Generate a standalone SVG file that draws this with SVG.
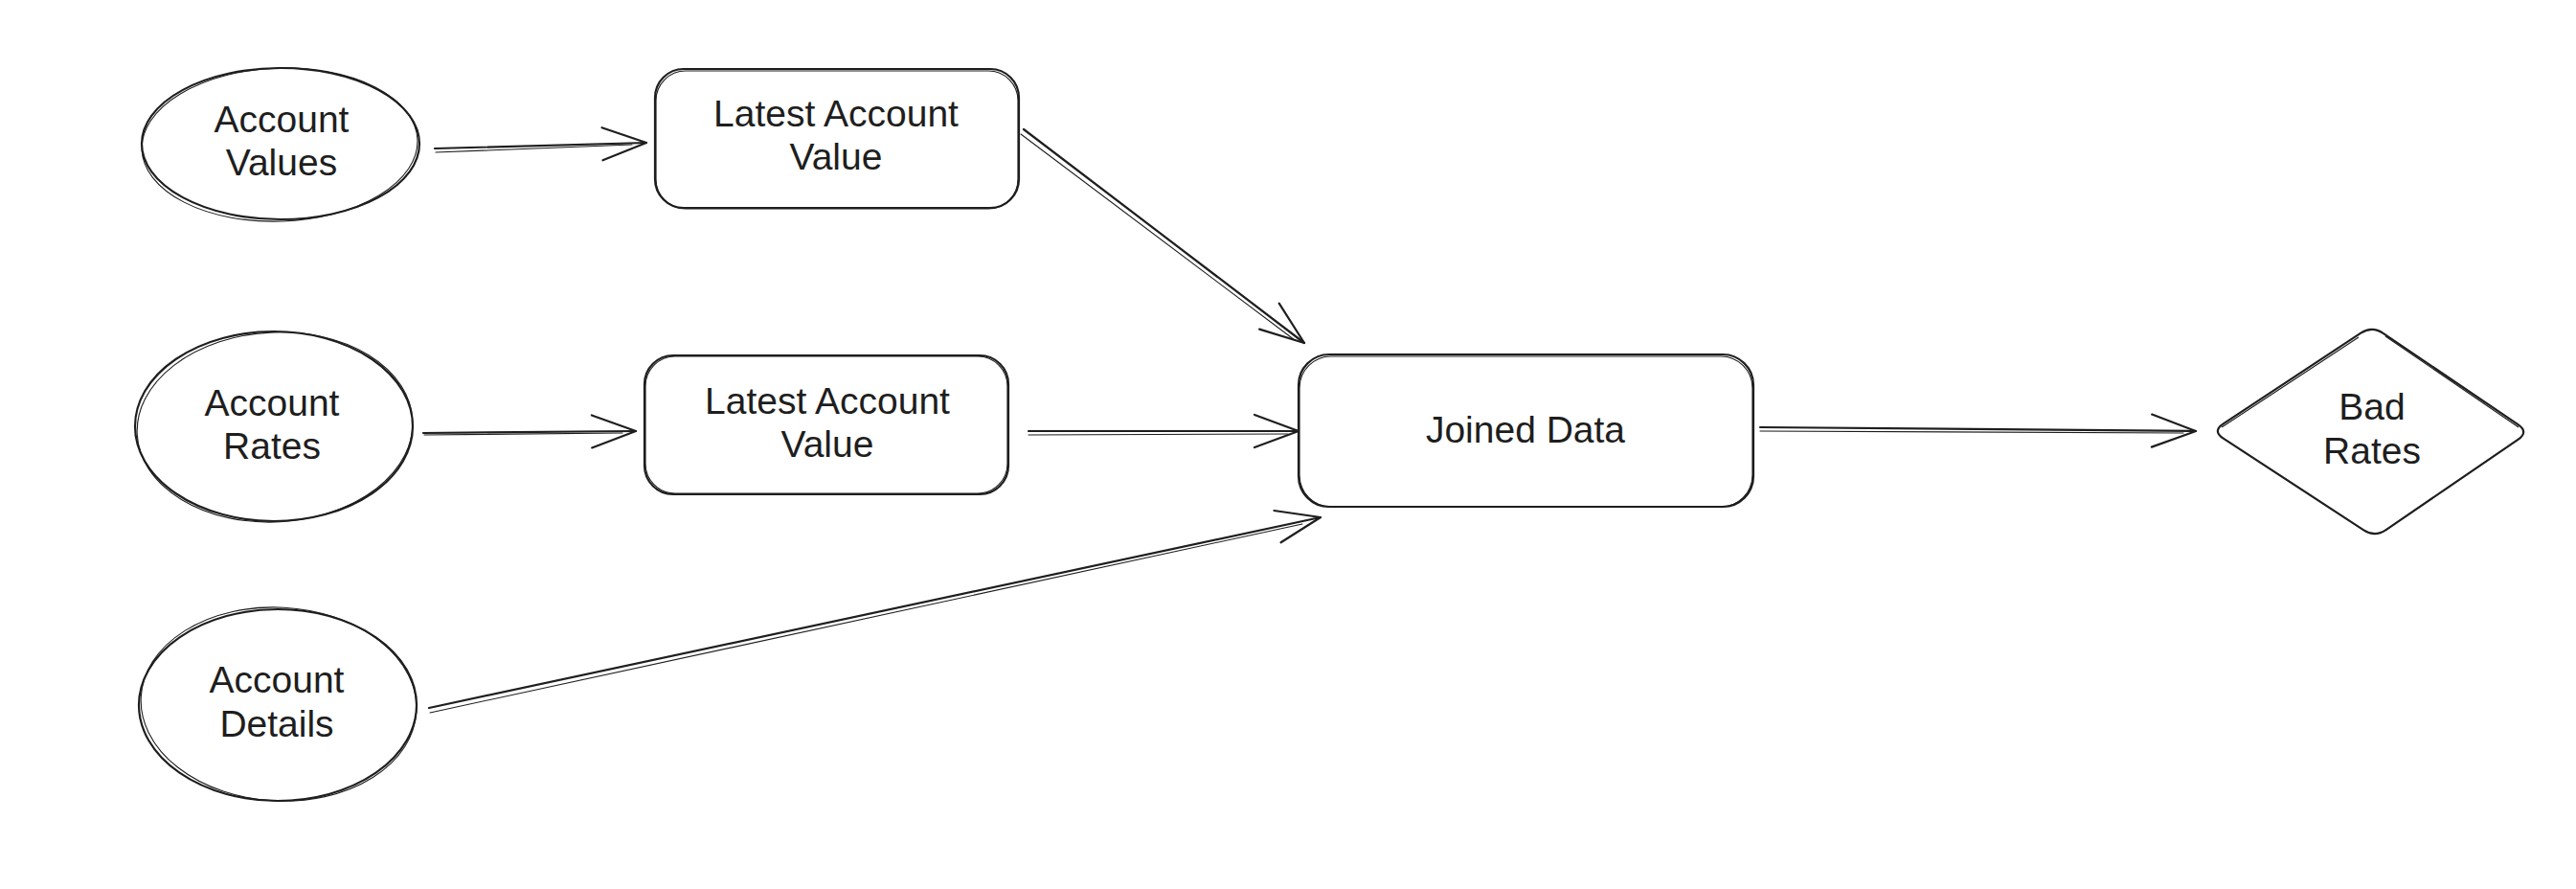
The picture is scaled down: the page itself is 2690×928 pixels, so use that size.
<svg xmlns="http://www.w3.org/2000/svg" width="2690" height="928" viewBox="0 0 2690 928">
<defs>
<style>
.shape{fill:#ffffff;stroke:#1e1e1e;stroke-width:2.2}
.sketch{fill:none;stroke:#1e1e1e;stroke-width:1.1}
.edge{fill:none;stroke:#1e1e1e;stroke-width:2.2;stroke-linecap:round}
.edge2{fill:none;stroke:#1e1e1e;stroke-width:1.1;stroke-linecap:round}
.lbl{font-family:"Liberation Sans",Arial,Helvetica,sans-serif;font-size:39px;fill:#1e1e1e;text-anchor:middle}
</style>
<marker id="arr" markerUnits="userSpaceOnUse" viewBox="-52 -22 56 44" refX="0" refY="0" markerWidth="56" markerHeight="44" orient="auto">
<path d="M-46,-17 L0,0 L-46,17" fill="none" stroke="#1e1e1e" stroke-width="2.2" stroke-linecap="round" stroke-linejoin="round"/>
</marker>
</defs>
<rect width="2690" height="928" fill="#ffffff"/>

<g id="connectors">
<path class="edge" d="M454,155 L675,149" marker-end="url(#arr)"/>
<path class="edge2" d="M455,159 L660,151"/>
<path class="edge" d="M442,452 L664,450" marker-end="url(#arr)"/>
<path class="edge2" d="M443,454 L650,452"/>
<path class="edge" d="M448,739 L1379,540" marker-end="url(#arr)"/>
<path class="edge2" d="M449,744 L1360,547"/>
<path class="edge" d="M1069,135 L1362,358" marker-end="url(#arr)"/>
<path class="edge2" d="M1066,140 L1352,355"/>
<path class="edge" d="M1074,450 L1356,450" marker-end="url(#arr)"/>
<path class="edge2" d="M1074,454 L1345,453"/>
<path class="edge" d="M1838,446 L2293,450" marker-end="url(#arr)"/>
<path class="edge2" d="M1838,450 L2280,452"/>
</g>

<g id="account-values">
<ellipse class="shape" cx="293" cy="150" rx="145" ry="79"/>
<ellipse class="sketch" cx="292" cy="151" rx="144" ry="80" transform="rotate(-2 293 150)"/>
<text class="lbl" x="294" y="138">Account</text>
<text class="lbl" x="294" y="183">Values</text>
</g>

<g id="latest-account-value-1">
<rect class="shape" x="684" y="72" width="380" height="145" rx="30"/>
<rect class="sketch" x="685" y="74" width="378" height="144" rx="31"/>
<text class="lbl" x="873" y="132">Latest Account</text>
<text class="lbl" x="873" y="177">Value</text>
</g>

<g id="account-rates">
<ellipse class="shape" cx="286" cy="445" rx="145" ry="99"/>
<ellipse class="sketch" cx="287" cy="446" rx="144" ry="99" transform="rotate(-3 286 445)"/>
<text class="lbl" x="284" y="434">Account</text>
<text class="lbl" x="284" y="479">Rates</text>
</g>

<g id="latest-account-value-2">
<rect class="shape" x="673" y="371" width="380" height="145" rx="30"/>
<rect class="sketch" x="674" y="372" width="378" height="143" rx="31"/>
<text class="lbl" x="864" y="432">Latest Account</text>
<text class="lbl" x="864" y="477">Value</text>
</g>

<g id="account-details">
<ellipse class="shape" cx="290" cy="736" rx="145" ry="100"/>
<ellipse class="sketch" cx="291" cy="735" rx="144" ry="101" transform="rotate(3 290 736)"/>
<text class="lbl" x="289" y="723">Account</text>
<text class="lbl" x="289" y="769">Details</text>
</g>

<g id="joined-data">
<rect class="shape" x="1356" y="370" width="475" height="159" rx="32"/>
<rect class="sketch" x="1357" y="372" width="473" height="157" rx="33"/>
<text class="lbl" x="1593" y="462">Joined Data</text>
</g>

<g id="bad-rates">
<path class="shape" d="M2321.7,442.3 L2465.3,347.7 Q2477,340 2488.6,347.9 L2629.4,443.1 Q2641,451 2629.4,458.9 L2491.6,553.1 Q2480,561 2468.3,553.3 L2321.7,457.7 Q2310,450 2321.7,442.3 Z"/>
<path class="sketch" d="M2491,351 L2630,446 M2320,446 L2463,352"/>
<text class="lbl" x="2477" y="438">Bad</text>
<text class="lbl" x="2477" y="484">Rates</text>
</g>
</svg>
